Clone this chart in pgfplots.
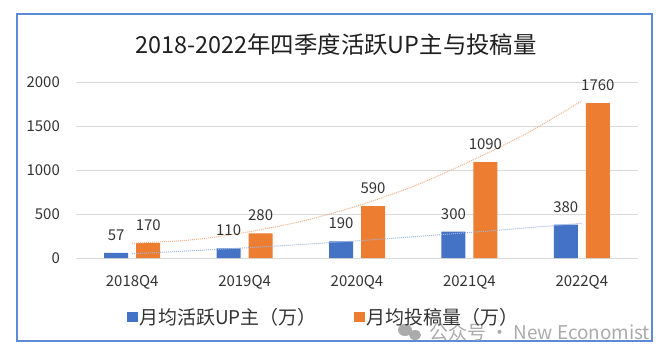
\documentclass[border=0pt]{standalone}
\usepackage{fontspec}
\setmainfont{Noto Sans CJK SC}
\usepackage{pgfplots}
\pgfplotsset{compat=1.18}
\definecolor{cblue}{HTML}{4472C4}
\definecolor{corange}{HTML}{ED7D31}
\definecolor{tblue}{HTML}{9DB5E3}
\definecolor{torange}{HTML}{F4B183}
\definecolor{gridc}{HTML}{D9D9D9}
\definecolor{txt}{HTML}{333333}
\definecolor{framec}{HTML}{5B8AD6}
\definecolor{wm}{HTML}{ABABAB}
\begin{document}
\begin{tikzpicture}[x=1bp,y=1bp]
\path[use as bounding box] (0,0) rectangle (664,358);
\fill[white] (0,0) rectangle (664,358);
\draw[framec, line width=1.2bp] (17,17) rectangle (652,344);
\node[font=\fontsize{23.5}{27}\selectfont, text=black!88] at (336,313) {2018-2022年四季度活跃UP主与投稿量};
% watermark
\fill[wm] (405,28) ellipse (7bp and 6bp);
\fill[wm] (415,23) ellipse (6bp and 5bp);
\node[font=\fontsize{19}{22}\selectfont, text=wm, anchor=west, inner sep=0pt] at (429,26) {公众号 · New Economist};
\begin{axis}[
  at={(76bp,100bp)}, anchor=south west,
  scale only axis, width=562bp, height=176bp,
  xmin=-0.5, xmax=4.5, ymin=0, ymax=2000,
  ytick={0,500,1000,1500,2000},
  xtick={0,1,2,3,4},
  xticklabels={2018Q4,2019Q4,2020Q4,2021Q4,2022Q4},
  ymajorgrids, grid style={gridc, line width=0.9bp},
  axis x line*=bottom, axis y line*=left,
  axis line style={draw=none},
  major tick length=0pt,
  /pgf/number format/assume math mode=true,
  /pgf/number format/1000 sep={},
  tick label style={font=\fontsize{15}{18}\selectfont, text=txt},
  yticklabel style={inner sep=0pt, anchor=east, xshift=-16bp},
  xticklabel style={inner sep=0pt, anchor=north, yshift=-17bp},
  legend columns=2,
  legend style={at={(0.44,-0.335)}, anchor=center, draw=none, fill=none,
    font=\fontsize{19}{22}\selectfont, text=txt,
    /tikz/every even column/.append style={column sep=36bp},
    nodes={inner sep=1.5bp}},
  legend image code/.code={\fill[#1] (0bp,-5bp) rectangle (11bp,5bp);},
]
\addplot[ybar, bar width=24bp, bar shift=-16bp, fill=cblue, draw=none, nodes near coords,
  nodes near coords style={font=\fontsize{15}{18}\selectfont, text=txt, inner sep=0pt, anchor=south, xshift=-16bp, yshift=12bp}]
  coordinates {(0,57) (1,110) (2,190) (3,300) (4,380)};
\addlegendentry{月均活跃UP主（万）}
\addplot[ybar, bar width=24bp, bar shift=16bp, fill=corange, draw=none, nodes near coords,
  nodes near coords style={font=\fontsize{15}{18}\selectfont, text=txt, inner sep=0pt, anchor=south, xshift=16bp, yshift=12bp}]
  coordinates {(0,170) (1,280) (2,590) (3,1090) (4,1760)};
\addlegendentry{月均投稿量（万）}
\addplot[torange, densely dotted, line width=1bp, smooth, forget plot]
  coordinates {(0,168) (0.5,203) (1,290) (1.5,415) (2,591) (2.5,814) (3,1095) (3.5,1410) (4,1785)};
\addplot[tblue, densely dotted, line width=1bp, smooth, forget plot]
  coordinates {(0,48) (1,115) (2,195) (3,290) (4,395)};
\end{axis}
\end{tikzpicture}
\end{document}
